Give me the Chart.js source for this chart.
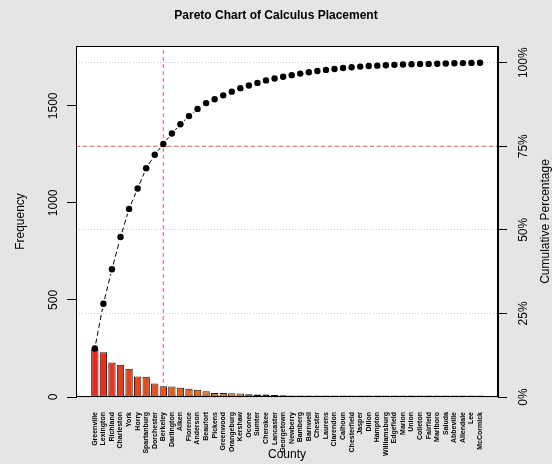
<!DOCTYPE html>
<html>
<head>
<meta charset="utf-8">
<title>Pareto Chart of Calculus Placement</title>
<script src="https://cdn.jsdelivr.net/npm/chart.js@4/dist/chart.umd.min.js"></script>
<style>
  html, body { margin: 0; padding: 0; background: #e5e5e5; }
  #wrap { width: 552px; height: 464px; }
</style>
</head>
<body>
<div id="wrap"><canvas id="chart" width="552" height="464"></canvas></div>
<script>
// Counties, sorted by number of students placed
const counties = [
  "Greenville", "Lexington", "Richland", "Charleston", "York", "Horry",
  "Spartanburg", "Dorchester", "Berkeley", "Darlington", "Aiken", "Florence",
  "Anderson", "Beaufort", "Pickens", "Greenwood", "Orangeburg", "Kershaw",
  "Oconee", "Sumter", "Cherokee", "Lancaster", "Georgetown", "Newberry",
  "Bamberg", "Barnwell", "Chester", "Laurens", "Clarendon", "Calhoun",
  "Chesterfield", "Jasper", "Dillon", "Hampton", "Williamsburg", "Edgefield",
  "Marion", "Union", "Colleton", "Fairfield", "Marlboro", "Saluda",
  "Abbeville", "Allendale", "Lee", "McCormick"
];

// Frequency per county
const frequency = [
  250, 230, 178, 166, 145, 105,
  104, 70, 55, 54, 48, 42,
  37, 30, 20, 20, 19, 18,
  14, 13, 13, 10, 9, 8,
  8, 7, 6, 6, 5, 5,
  4, 3, 3, 2, 2, 2,
  2, 1, 1, 1, 1, 1,
  1, 1, 1, 1
];

// Axis tick values
const freqTicks = [0, 500, 1000, 1500];
const pctTicks = [0, 25, 50, 75, 100];

// Cut-off level for the reference lines (percent)
const cutoffPct = 75;

const total = frequency.reduce((a, b) => a + b, 0);
let running = 0;
const cumulativePct = frequency.map(v => (running += v) / total * 100);
const cutIndex = cumulativePct.findIndex(p => p >= cutoffPct);

// horizontal extent of the plot, in category units
const xMin = -2.2;
const xMax = counties.length - 1 + 2.1;

// red -> orange -> yellow ramp, then fading yellows
function heatColor(i, n) {
  const j = Math.floor(n / 4);
  const k = n - j;
  if (i < k) {
    const h = 4 + (i / (k - 1)) * 54;
    return `hsl(${h.toFixed(1)}, 80%, 51%)`;
  }
  const t = (i - k) / Math.max(1, j - 1);
  return `hsl(58, 85%, ${(60 + t * 30).toFixed(1)}%)`;
}

// Dashed connector that stops short of each point ("both" style);
// segments too short to leave room are left out entirely.
function gappedDash(seg) {
  const len = Math.hypot(seg.p1.x - seg.p0.x, seg.p1.y - seg.p0.y);
  const gap = 5;
  if (len <= 2 * gap + 1) return [0, len + 20];
  const pattern = [0, gap];
  let pos = gap;
  const end = len - gap;
  while (pos < end) {
    const d = Math.min(5, end - pos);
    pattern.push(d, 3);
    pos += d + 3;
  }
  pattern.push(0, len + 20);
  return pattern;
}

const FONT = "'Liberation Sans', Arial, Helvetica, sans-serif";
Chart.defaults.font.family = FONT;
Chart.defaults.color = '#000';

const backdrop = {
  id: 'backdrop',
  beforeDraw(chart) {
    const { ctx, chartArea: a } = chart;
    ctx.save();
    ctx.fillStyle = '#e5e5e5';
    ctx.fillRect(0, 0, chart.width, chart.height);
    ctx.fillStyle = '#ffffff';
    ctx.fillRect(a.left, a.top, a.right - a.left, a.bottom - a.top);
    ctx.restore();
  }
};

const frame = {
  id: 'frame',
  afterDraw(chart) {
    const { ctx, chartArea: a } = chart;
    ctx.save();
    ctx.strokeStyle = '#000';
    ctx.lineWidth = 1;
    const l = Math.round(a.left) + 0.5, r = Math.round(a.right) - 0.5;
    const t = Math.round(a.top) + 0.5, b = Math.round(a.bottom) - 0.5;
    ctx.strokeRect(l, t, r - l, b - t);
    // right-hand axis title, reading upwards
    ctx.fillStyle = '#000';
    ctx.font = `12px ${FONT}`;
    ctx.textAlign = 'center';
    ctx.textBaseline = 'middle';
    ctx.translate(546, (a.top + a.bottom) / 2);
    ctx.rotate(-Math.PI / 2);
    ctx.fillText('Cumulative Percentage', 0, 0);
    ctx.restore();
  }
};

new Chart(document.getElementById('chart'), {
  type: 'bar',
  data: {
    datasets: [
      {
        type: 'line',
        label: 'cumulative',
        yAxisID: 'y2',
        data: cumulativePct.map((p, i) => ({ x: i, y: p })),
        borderColor: '#000',
        borderWidth: 1,
        segment: { borderDash: gappedDash },
        pointRadius: 3.2,
        pointBackgroundColor: '#000',
        pointBorderWidth: 0,
        tension: 0,
        order: 1
      },
      {
        type: 'bar',
        label: 'frequency',
        yAxisID: 'y',
        data: frequency.map((v, i) => ({ x: i, y: v })),
        backgroundColor: frequency.map((_, i) => heatColor(i, frequency.length)),
        borderColor: '#1a1a1a',
        borderWidth: 1,
        borderSkipped: false,
        minBarLength: 1.5,
        categoryPercentage: 1,
        barPercentage: 0.86,
        order: 2
      },
      {
        type: 'line',
        label: 'cutoff-h',
        yAxisID: 'y2',
        data: [{ x: xMin, y: cutoffPct }, { x: xMax, y: cutoffPct }],
        borderColor: 'rgba(232,64,64,0.85)',
        borderWidth: 1,
        borderDash: [4, 3],
        pointRadius: 0,
        order: 3
      },
      {
        type: 'line',
        label: 'cutoff-v',
        yAxisID: 'y2',
        data: [{ x: cutIndex, y: 0 }, { x: cutIndex, y: 105 }],
        borderColor: 'rgba(232,64,64,0.85)',
        borderWidth: 1,
        borderDash: [4, 3],
        pointRadius: 0,
        order: 3
      }
    ]
  },
  options: {
    responsive: false,
    animation: false,
    events: [],
    layout: { padding: 0 },
    plugins: {
      legend: { display: false },
      tooltip: { enabled: false },
      title: {
        display: true,
        text: 'Pareto Chart of Calculus Placement',
        color: '#000',
        font: { size: 12, weight: 'bold', family: FONT },
        padding: { top: 8.8, bottom: 22.8 }
      }
    },
    scales: {
      x: {
        type: 'linear',
        position: 'bottom',
        offset: false,
        min: xMin,
        max: xMax,
        afterBuildTicks: s => { s.ticks = counties.map((_, i) => ({ value: i })); },
        afterFit: s => { s.height = 67; },
        ticks: {
          autoSkip: false,
          minRotation: 90,
          maxRotation: 90,
          padding: 15,
          color: '#000',
          font: { size: 7, weight: 'bold', family: FONT },
          callback: v => counties[v]
        },
        grid: { display: false, drawTicks: false, offset: false },
        border: { display: false },
        title: {
          display: true,
          text: 'County',
          color: '#000',
          font: { size: 12, family: FONT },
          padding: { top: 0, bottom: 2 }
        }
      },
      y: {
        position: 'left',
        min: 0,
        max: total * 1.05,
        afterBuildTicks: s => { s.ticks = freqTicks.map(v => ({ value: v })); },
        afterFit: s => { s.width = 76; },
        ticks: {
          minRotation: 90,
          maxRotation: 90,
          crossAlign: 'center',
          padding: 0,
          color: '#000',
          font: { size: 12, family: FONT },
          callback: v => String(v)
        },
        grid: {
          drawOnChartArea: false,
          drawTicks: true,
          tickLength: 9,
          tickColor: '#000',
          tickWidth: 1
        },
        border: { display: true, color: '#000', width: 1 },
        title: {
          display: true,
          text: 'Frequency',
          color: '#000',
          font: { size: 12, family: FONT },
          padding: { top: 13, bottom: 0 }
        }
      },
      y2: {
        position: 'right',
        min: 0,
        max: 105,
        afterBuildTicks: s => { s.ticks = pctTicks.map(v => ({ value: v })); },
        afterFit: s => { s.width = 54; },
        ticks: {
          minRotation: 90,
          maxRotation: 90,
          crossAlign: 'center',
          padding: 1,
          color: '#000',
          font: { size: 12, family: FONT },
          callback: v => v + '%'
        },
        grid: {
          drawOnChartArea: true,
          color: '#c4c4c4',
          lineWidth: 1,
          drawTicks: true,
          tickLength: 9,
          tickColor: '#000',
          tickWidth: 1,
          tickBorderDash: []
        },
        border: { display: true, color: '#000', width: 1, dash: [1, 2] }
      }
    }
  },
  plugins: [backdrop, frame]
});
</script>
</body>
</html>
